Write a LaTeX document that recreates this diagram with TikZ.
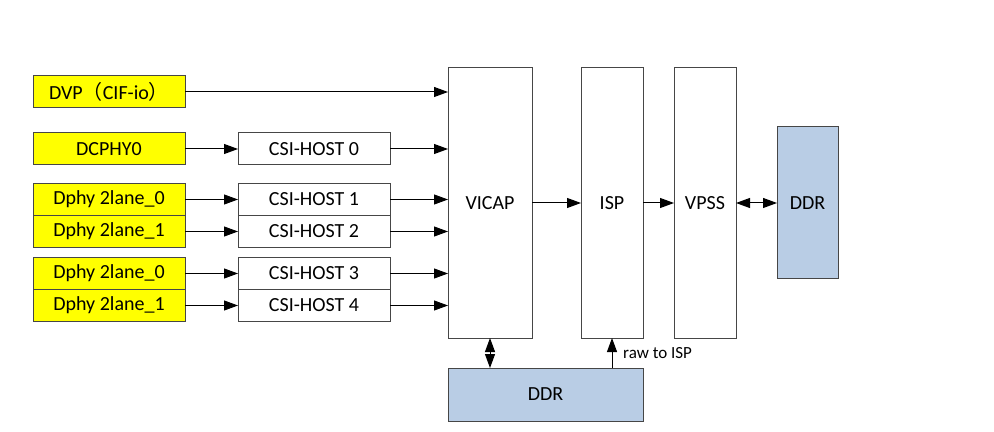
\documentclass[tikz,border=0pt]{standalone}
\usepackage{fontspec}
\setmainfont{Carlito}
\newfontfamily\cjk{Noto Sans CJK SC}
\usetikzlibrary{positioning,arrows.meta}
\definecolor{phyyellow}{RGB}{255,255,0}
\definecolor{ddrblue}{RGB}{185,205,229}
\definecolor{edge}{RGB}{70,70,70}
\tikzstyle{phy} = [draw=edge, fill=phyyellow, rectangle, outer sep=0pt,
    minimum height=16pt, minimum width=76pt, inner sep=0pt]
\tikzstyle{host} = [draw=edge, fill=white, rectangle, outer sep=0pt,
    minimum height=16pt, minimum width=76pt, inner sep=0pt]
\tikzstyle{unit} = [draw=edge, fill=white, rectangle, outer sep=0pt,
    minimum height=135pt]
\tikzstyle{mem} = [draw=edge, fill=ddrblue, rectangle, outer sep=0pt]

\begin{document}
\begin{tikzpicture}[x=0.5pt, y=-0.5pt, node distance=26.5pt, line width=0.5pt,
    >={Triangle[length=7pt,width=5pt]}, font=\fontsize{10}{12}\selectfont]
    \useasboundingbox (0,0) rectangle (994,432);
    % processing chain
    \node [unit, minimum width=42pt] (vicap) at (490,203) {VICAP};
    \node [unit, minimum width=31pt, right=24.5pt of vicap] (isp) {ISP};
    \node [unit, minimum width=31pt, right=15.5pt of isp] (vpss) {VPSS};
    \node [mem, minimum width=30.5pt, minimum height=76pt, right=20.5pt of vpss] (ddr) {DDR};
    \node [mem, minimum width=97.5pt, minimum height=26.5pt, below right=15pt and 0pt of vicap.south west] (ddrlow) {DDR};
    % sensor interfaces
    \node [phy] (dvp) at (109,92) {DVP{\cjk （}CIF-io{\cjk ）}};
    \node [phy] (dcphy) at (109,149) {DCPHY0};
    \node [phy] (laneA) at (109,199.5) {Dphy 2lane\_0};
    \node [phy, below=0pt of laneA] (laneB) {Dphy 2lane\_1};
    \node [phy] (laneC) at (109,273.5) {Dphy 2lane\_0};
    \node [phy, below=0pt of laneC] (laneD) {Dphy 2lane\_1};
    \node [host, right=of dcphy] (host0) {CSI-HOST 0};
    \node [host, right=of laneA] (host1) {CSI-HOST 1};
    \node [host, right=of laneB] (host2) {CSI-HOST 2};
    \node [host, right=of laneC] (host3) {CSI-HOST 3};
    \node [host, right=of laneD] (host4) {CSI-HOST 4};
    \draw [->] (dvp) -- (dvp -| vicap.west);
    \foreach \a/\b in {dcphy/host0, laneA/host1, laneB/host2, laneC/host3, laneD/host4}
        \draw [->] (\a) -- (\b);
    \foreach \h in {host0, host1, host2, host3, host4}
        \draw [->] (\h) -- (\h -| vicap.west);
    \draw [->] (vicap) -- (isp);
    \draw [->] (isp) -- (vpss);
    \draw [<->] (vpss) -- (ddr);
    \draw [<->] (vicap.south) -- (vicap.south |- ddrlow.north);
    \draw [->] (ddrlow.north -| isp) -- node [right=2pt, font=\fontsize{8.5}{10}\selectfont] {raw to ISP} (isp.south);
\end{tikzpicture}
\end{document}
